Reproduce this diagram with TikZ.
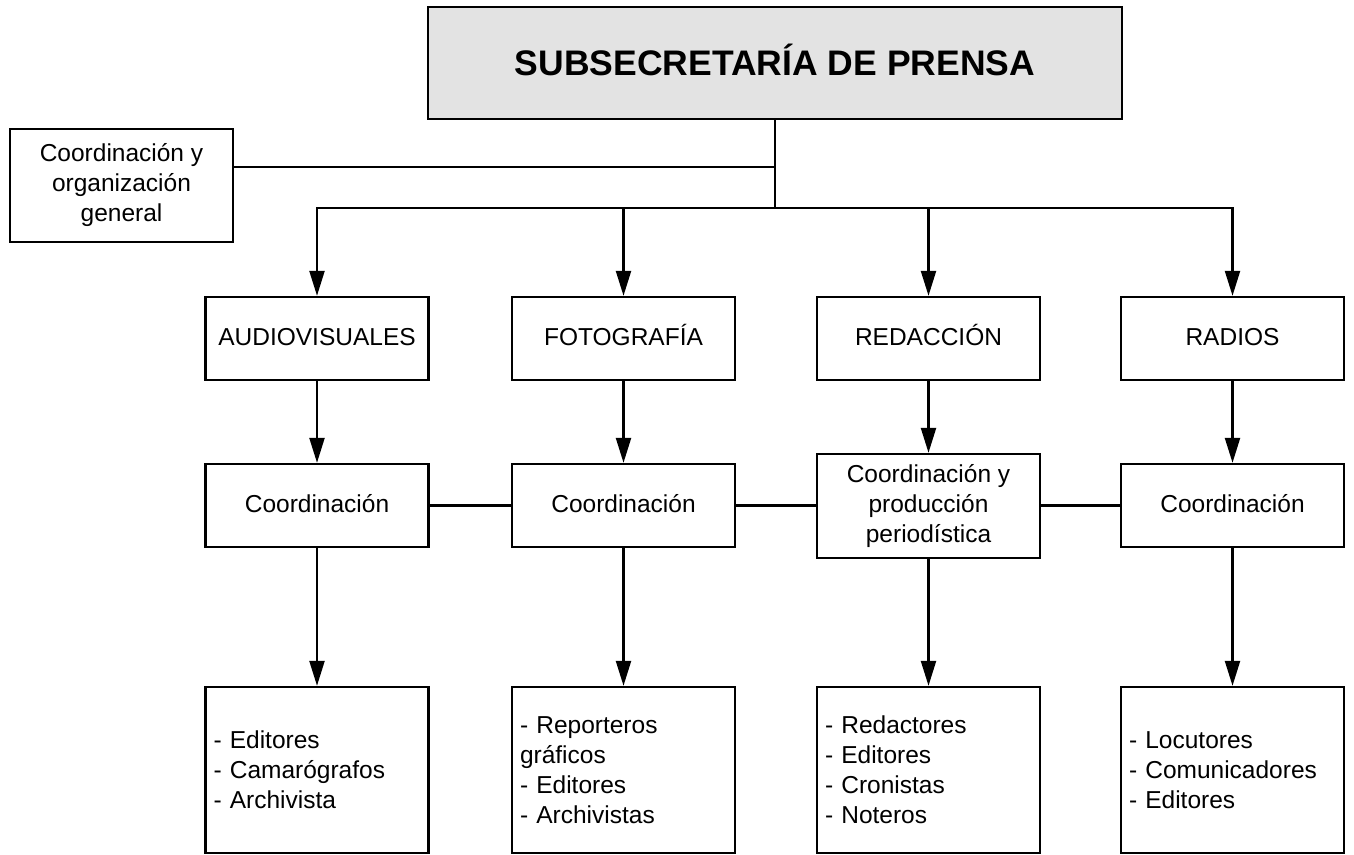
\documentclass[tikz,border=0pt]{standalone}
\usepackage{fontspec}
\setmainfont{Liberation Sans}
\usetikzlibrary{arrows.meta}
\definecolor{topfill}{HTML}{E3E3E3}
\begin{document}
\begin{tikzpicture}[x=1pt,y=-1pt,
  box/.style={draw=black,line width=2.4pt,inner sep=0pt,align=center,
    font=\fontsize{24.5}{30}\selectfont},
  lvl/.style={box,minimum width=223pt,minimum height=83pt,text height=19pt,text depth=5pt},
  listbox/.style={box,minimum width=223pt,minimum height=166pt,align=left,
    text width=207pt},
  link/.style={line width=2.3pt},
  arr/.style={link,-{Triangle[length=25pt,width=15pt]}}]
\useasboundingbox (0,0) rectangle (1354,854);
% top
\node[box,fill=topfill,minimum width=694pt,minimum height=112pt] (top) at (775,63) {};
\node[font=\fontsize{35.5}{40}\bfseries] (title) at (775,60) {SUBSECRETARÍA DE PRENSA};
\node[box,minimum width=223pt,minimum height=113pt] (gen) at (121.5,185.5)
  {Coordinación y\\organización\\general};
\coordinate (j1) at (775,167);
\coordinate (j2) at (775,208);
% level 1
\node[lvl] (aud) at (317,338.5) {AUDIOVISUALES};
\node[lvl] (fot) at (623.5,338.5) {FOTOGRAFÍA};
\node[lvl] (red) at (928.5,338.5) {REDACCIÓN};
\node[lvl] (rad) at (1232.5,338.5) {RADIOS};
% level 2
\node[lvl] (caud) at (317,505.5) {Coordinación};
\node[lvl] (cfot) at (623.5,505.5) {Coordinación};
\node[box,minimum width=223pt,minimum height=104pt] (cred) at (928.5,506)
  {Coordinación y\\producción\\periodística};
\node[lvl] (crad) at (1232.5,505.5) {Coordinación};
% level 3
\node[listbox] (laud) at (317,770) {- Editores\\- Camarógrafos\\- Archivista};
\node[listbox] (lfot) at (623.5,770) {- Reporteros\\gráficos\\- Editores\\- Archivistas};
\node[listbox] (lred) at (928.5,770) {- Redactores\\- Editores\\- Cronistas\\- Noteros};
\node[listbox] (lrad) at (1232.5,770) {- Locutores\\- Comunicadores\\- Editores};
% connectors
\draw[link] (top.south) -- (j2);
\draw[link] (gen.east |- j1) -- (j1);
\draw[arr] (j2) -| (aud.north);
\draw[arr] (j2) -| (fot.north);
\draw[arr] (j2) -| (red.north);
\draw[arr] (j2) -| (rad.north);
\draw[arr] (aud) -- (caud);
\draw[arr] (fot) -- (cfot);
\draw[arr] (red) -- (cred);
\draw[arr] (rad) -- (crad);
\draw[link] (caud.east) -- (cfot.west);
\draw[link] (cfot.east) -- (cfot.east -| cred.west);
\draw[link] (crad.west -| cred.east) -- (crad.west);
\draw[arr] (caud) -- (laud);
\draw[arr] (cfot) -- (lfot);
\draw[arr] (cred) -- (lred);
\draw[arr] (crad) -- (lrad);
\end{tikzpicture}
\end{document}
